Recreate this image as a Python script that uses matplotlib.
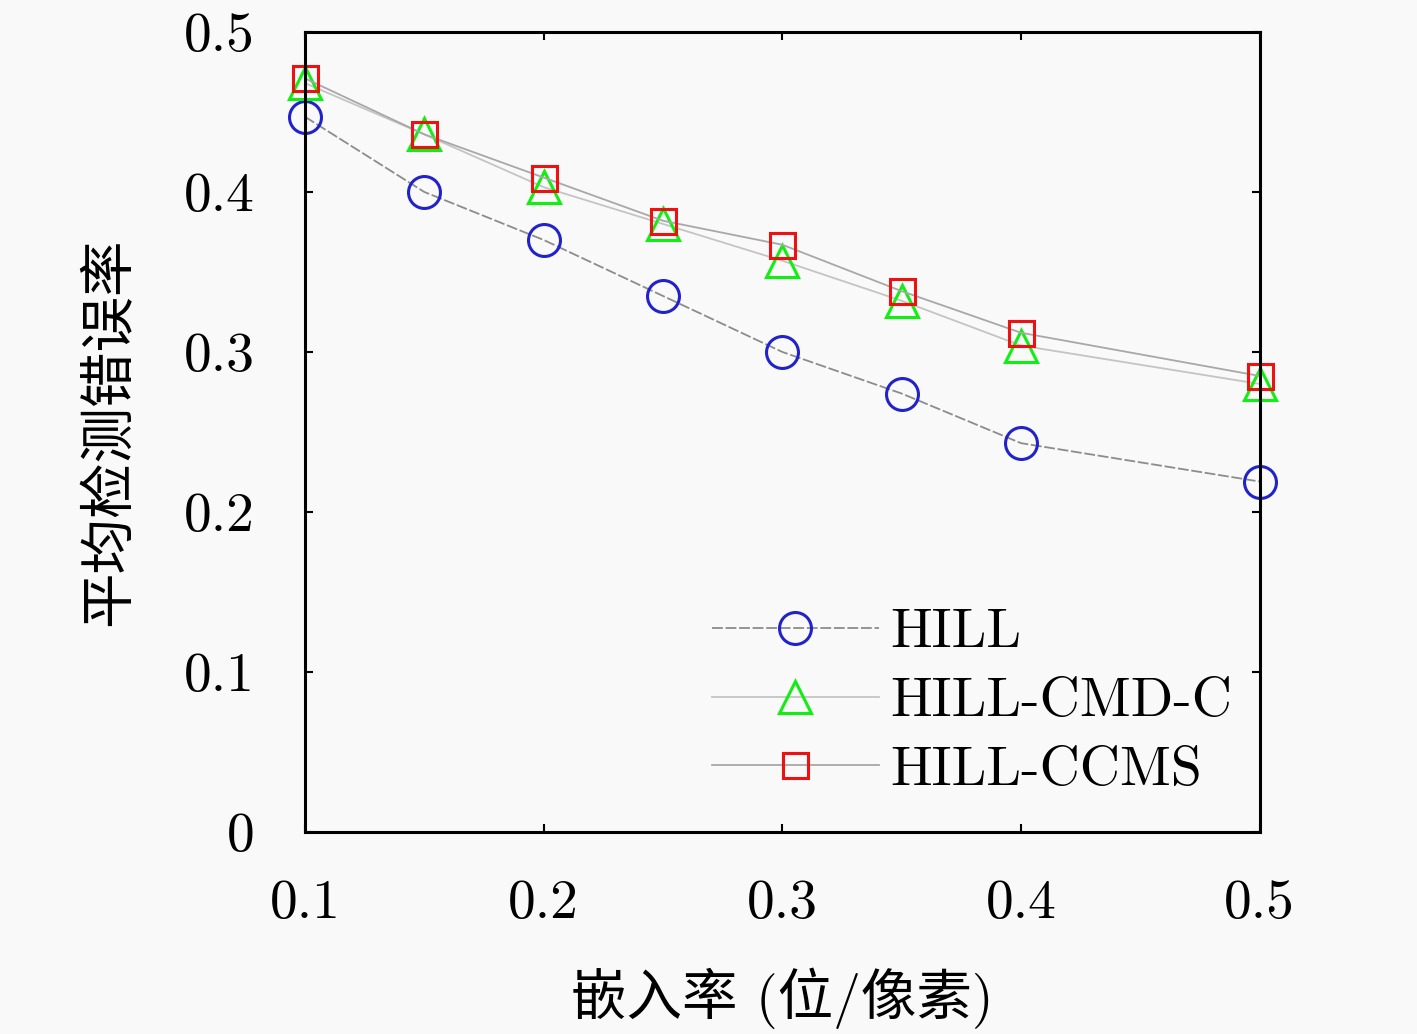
import numpy as np
import matplotlib.pyplot as plt

plt.rcParams['font.family'] = ['cmr10', 'Noto Sans CJK SC']
plt.rcParams['axes.unicode_minus'] = False

rates = [0.1, 0.15, 0.2, 0.25, 0.3, 0.35, 0.4, 0.5]
hill = [0.447, 0.400, 0.370, 0.335, 0.300, 0.274, 0.243, 0.219]
hill_cmd_c = [0.468, 0.436, 0.403, 0.380, 0.357, 0.332, 0.304, 0.280]
hill_ccms = [0.471, 0.436, 0.409, 0.382, 0.367, 0.338, 0.312, 0.285]

xticks = [0.1, 0.2, 0.3, 0.4, 0.5]
yticks = [0, 0.1, 0.2, 0.3, 0.4, 0.5]
ytick_labels = ['0', '0.1', '0.2', '0.3', '0.4', '0.5']

fig = plt.figure(figsize=(14.17, 10.34), dpi=100)
fig.patch.set_facecolor('#f9f9f9')
ax = fig.add_axes([0.2152, 0.1954, 0.6738, 0.7737])
ax.set_facecolor('#f9f9f9')

ax.plot(rates, hill, color='#8c8c8c', lw=1.3, ls=(0, (6, 1.5)), clip_on=False,
        marker='o', ms=23, mfc='none', mec='#2222cc', mew=2.2, label='HILL')
ax.plot(rates, hill_cmd_c, color='#c4c4c4', lw=1.3, clip_on=False,
        marker='^', ms=23, mfc='none', mec='#11ee11', mew=2.2, label='HILL-CMD-C')
ax.plot(rates, hill_ccms, color='#a8a8a8', lw=1.3, clip_on=False,
        marker='s', ms=18, mfc='none', mec='#ee1111', mew=2.2, label='HILL-CCMS')

ax.set_xlim(0.1, 0.5)
ax.set_ylim(0, 0.5)
ax.set_xticks(xticks)
ax.set_xticklabels([f'{t:.1f}' for t in xticks])
ax.set_yticks(yticks)
ax.set_yticklabels(ytick_labels)

ax.tick_params(direction='in', length=6, width=1.5, top=True, right=True,
               labelsize=40)
ax.tick_params(axis='x', pad=34)
ax.tick_params(axis='y', pad=36)
for s in ax.spines.values():
    s.set_linewidth(2.2)

ax.set_xlabel('嵌入率 (位/像素)', fontsize=40, labelpad=28)
ax.set_ylabel('平均检测错误率', fontsize=40, labelpad=34)

ax.legend(loc='lower right', bbox_to_anchor=(0.994, 0.0175), frameon=False,
          fontsize=40, handlelength=3.0, handletextpad=0.2, labelspacing=0.34,
          borderaxespad=0)

fig.savefig('out.png', dpi=100, facecolor=fig.get_facecolor())
